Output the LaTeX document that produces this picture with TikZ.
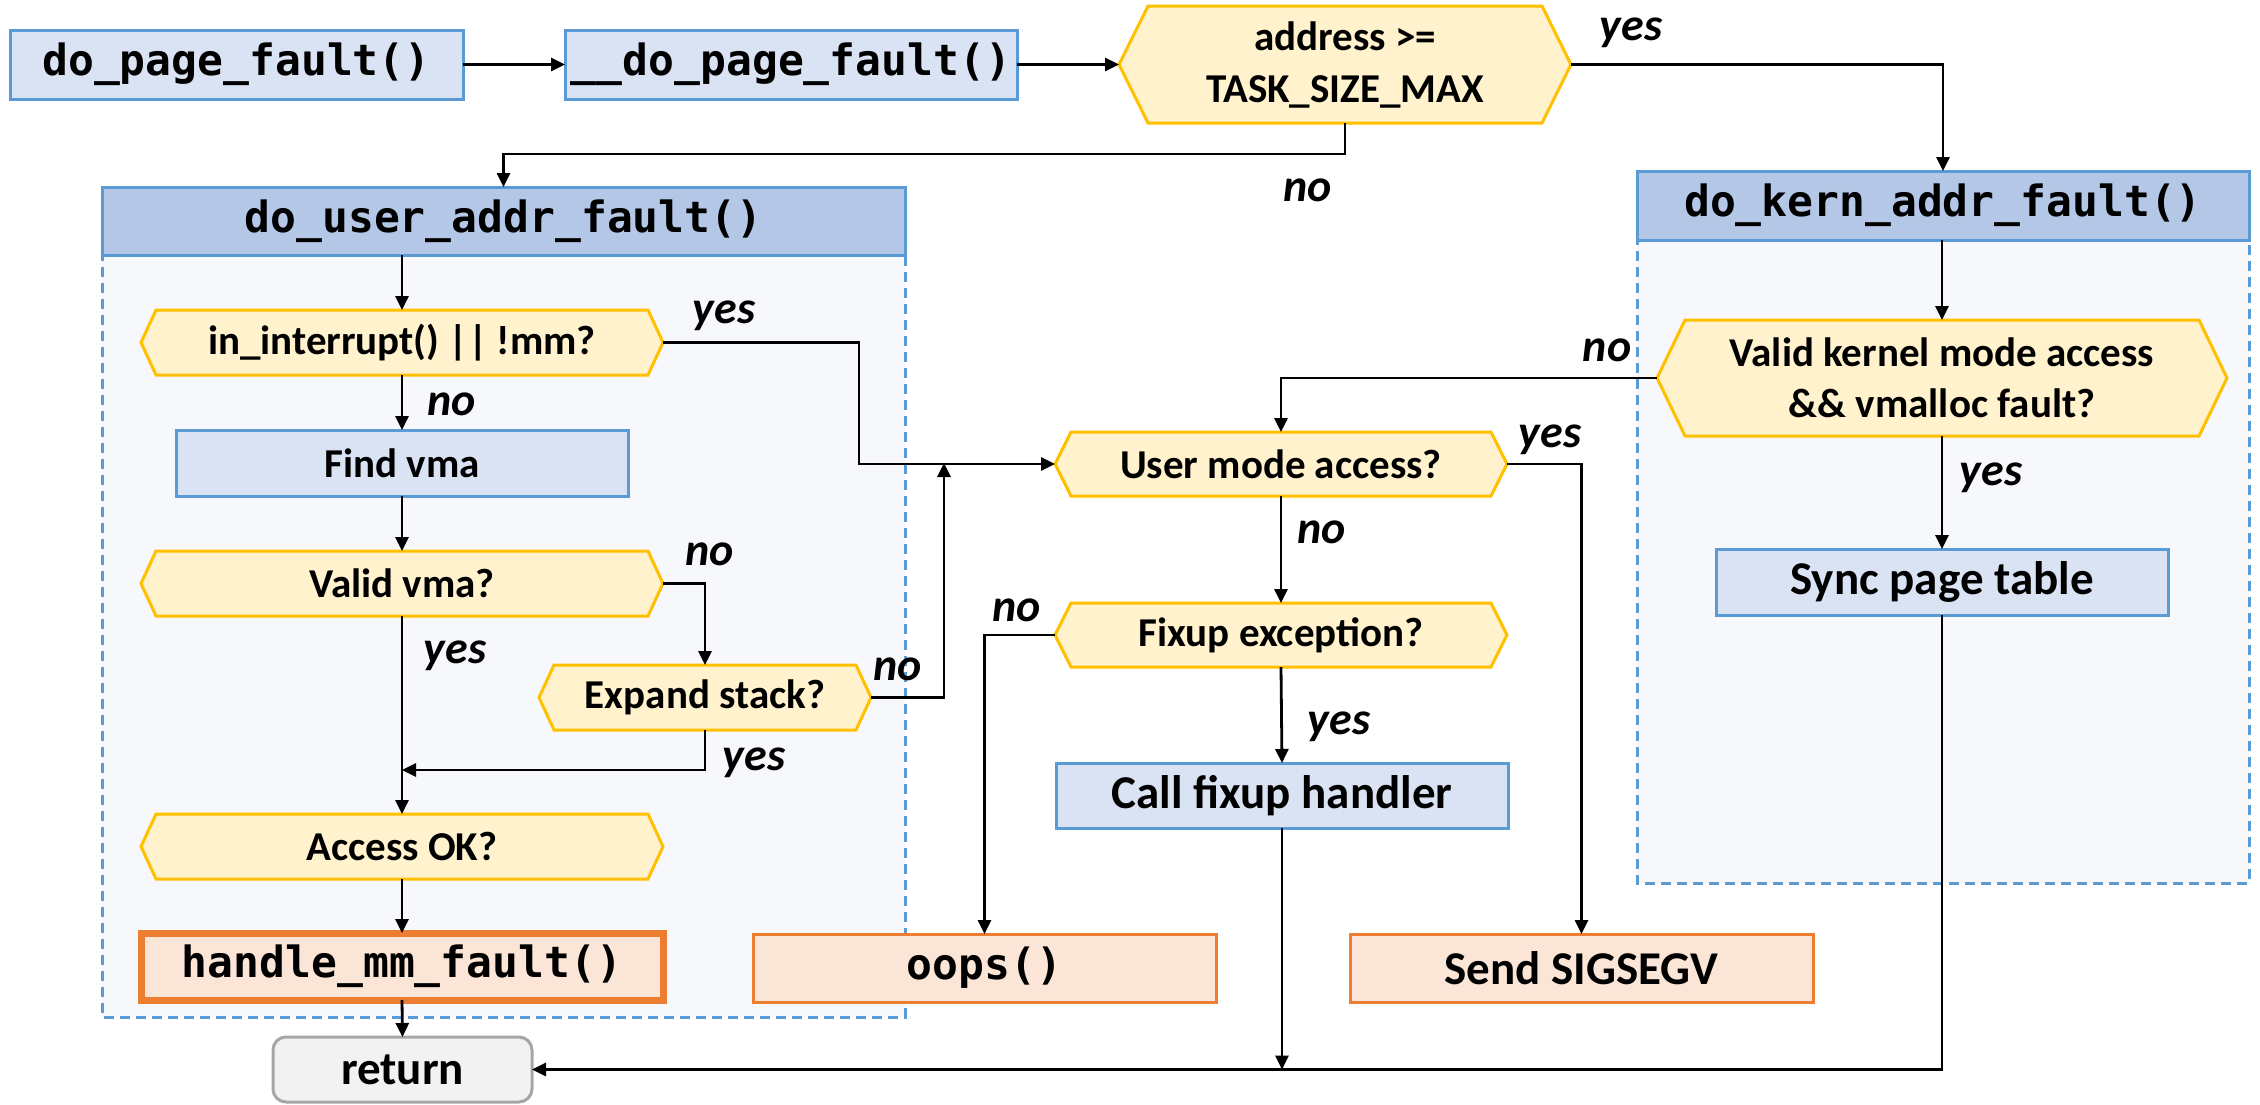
\documentclass[tikz,border=0pt]{standalone}
\usepackage{fontspec}
\setmainfont{Carlito}
\newfontfamily\monof{DejaVu Sans Mono}
\usetikzlibrary{arrows.meta}
\definecolor{bfill}{HTML}{DAE3F3}
\definecolor{bline}{HTML}{5B9BD5}
\definecolor{hfill}{HTML}{B4C7E7}
\definecolor{cfill}{HTML}{F6F8FC}
\definecolor{yfill}{HTML}{FFF2CC}
\definecolor{yline}{HTML}{FFC000}
\definecolor{ofill}{HTML}{FBE5D6}
\definecolor{oline}{HTML}{ED7D31}
\definecolor{gfill}{HTML}{F2F2F2}
\definecolor{gline}{HTML}{A6A6A6}
\newcommand\fontSm{\fontsize{41}{50}\selectfont\bfseries}
\newcommand\fontLg{\fontsize{47}{56}\selectfont\bfseries}
\newcommand\fontMo{\fontsize{43}{52}\selectfont\monof\bfseries}
\newcommand\fontYn{\fontsize{46}{55}\selectfont\bfseries\itshape}
\newcommand\hexnode[8]{% name, cx, cy, halfw, halfh, slant, linespacing, text
  \draw[hexsty] (#2-#4,#3) -- (#2-#4+#6,#3-#5) -- (#2+#4-#6,#3-#5) -- (#2+#4,#3)
     -- (#2+#4-#6,#3+#5) -- (#2-#4+#6,#3+#5) -- cycle;
  \node[draw=none, inner sep=0pt, outer sep=0pt, align=center,
        font={\fontsize{41}{#7}\selectfont\bfseries},
        minimum width=2*#4, minimum height=2*#5] (#1) at (#2,#3) {#8};
}
\begin{document}
\begin{tikzpicture}[x=1pt,y=-1pt,
  hexsty/.style={fill=yfill, draw=yline, line width=3pt, line join=miter},
  bbox/.style={draw=bline, fill=bfill, line width=3pt, inner sep=0pt, outer sep=0pt},
  hdr/.style={draw=bline, fill=hfill, line width=3pt, inner sep=0pt, outer sep=0pt, font=\fontMo},
  obox/.style={draw=oline, fill=ofill, line width=3pt, inner sep=0pt, outer sep=0pt},
  gbox/.style={draw=gline, fill=gfill, line width=3pt, rounded corners=13pt, inner sep=0pt, outer sep=0pt},
  cont/.style={draw=bline, fill=cfill, line width=3pt, dash pattern=on 10pt off 6pt},
  arr/.style={-{Triangle[length=14pt,width=13pt]}, line width=2.8pt},
  yn/.style={inner sep=0pt, font=\fontYn}]
\useasboundingbox (0,0) rectangle (2260,1104);
\fill[white] (0,0) rectangle (2260,1104);

% containers
\draw[cont] (102,187) rectangle (905,1017);
\draw[cont] (1637,171) rectangle (2249,883);
\node[hdr, minimum width=803, minimum height=68] (uhdr) at (503.5,221) {do\_user\_addr\_fault()};
\node[hdr, minimum width=612, minimum height=69] (khdr) at (1943,205.5) {do\_kern\_addr\_fault()};

% top row
\node[bbox, minimum width=453, minimum height=69, font=\fontMo] (dpf) at (236.5,64.5) {do\_page\_fault()};
\node[bbox, minimum width=452, minimum height=69, font=\fontMo] (ddpf) at (791,64.5) {\_\_do\_page\_fault()};
\hexnode{addr}{1345}{64.5}{226}{58.5}{29}{52}{address >=\\TASK\_SIZE\_MAX}

% user column
\hexnode{intr}{402}{342.5}{261}{32.5}{15}{50}{in\_interrupt() || !mm?}
\node[bbox, minimum width=452, minimum height=66, font=\fontSm] (fvma) at (402,463) {Find vma};
\hexnode{vvma}{402}{583.5}{261}{32.5}{15}{50}{Valid vma?}
\hexnode{expand}{705}{697.5}{166}{32.5}{15}{50}{Expand stack?}
\hexnode{aok}{402}{846.5}{261}{32.5}{15}{50}{Access OK?}
\node[draw=oline, fill=ofill, line width=7pt, inner sep=0pt, outer sep=0pt, minimum width=522, minimum height=67, font=\fontMo] (hmm) at (402,966.5) {handle\_mm\_fault()};
\node[gbox, minimum width=259, minimum height=65, font=\fontLg] (ret) at (402.5,1069.5) {return};

% middle column
\hexnode{uma}{1281}{464}{226}{32}{16}{50}{User mode access?}
\hexnode{fix}{1281}{635}{226}{32}{16}{50}{Fixup exception?}
\node[bbox, minimum width=452, minimum height=65, font=\fontLg] (cfh) at (1282,795.5) {Call fixup handler};
\node[obox, minimum width=463, minimum height=68, font=\fontMo] (oops) at (984.5,968) {oops()};
\node[obox, minimum width=463, minimum height=68, font=\fontLg] (sig) at (1581.5,968) {Send SIGSEGV};

% kernel column
\hexnode{vkern}{1942}{378}{285}{58}{28}{51}{Valid kernel mode access\\\&\& vmalloc fault?}
\node[bbox, minimum width=452, minimum height=66, font=\fontLg] (sync) at (1942,582) {Sync page table};

% helper coordinates
\coordinate (k1) at (700,154);
\coordinate (j1) at (944,463);
\coordinate (j2) at (402,770);
\coordinate (j3) at (859,400);

% connectors
\draw[arr] (dpf.east) -- (ddpf.west);
\draw[arr] (ddpf.east) -- (addr.west);
\draw[arr] (addr.east) -| (khdr.north);
\draw[arr] (addr.south) |- (k1) -| (uhdr.north);
\draw[arr] (intr.north |- uhdr.south) -- (intr.north);
\draw[arr] (intr.east) -| (j3) |- (uma.west);
\draw[arr] (intr.south) -- (fvma.north);
\draw[arr] (fvma.south) -- (vvma.north);
\draw[arr] (vvma.east) -| (expand.north);
\draw[arr] (vvma.south) -- (aok.north);
\draw[arr] (expand.east) -| (j1);
\draw[arr] (expand.south) |- (j2);
\draw[arr] (aok.south) -- (hmm.north);
\draw[arr] (hmm.south) -- (ret.north);
\draw[arr] (vkern.north |- khdr.south) -- (vkern.north);
\draw[arr] (vkern.west) -| (uma.north);
\draw[arr] (vkern.south) -- (sync.north);
\draw[arr] (uma.east) -| (sig.north);
\draw[arr] (uma.south) -- (fix.north);
\draw[arr] (fix.west) -| (oops.north);
\draw[arr] (fix.south) -- (cfh.north);
\draw[arr] (cfh.south) -- (cfh.south |- ret.east);
\draw[arr] (sync.south) |- (ret.east);

% labels
\node[yn] (l1) at (1631,33) {yes};
\node[yn] (l2) at (1308,190) {no};
\node[yn] (l3) at (724,316) {yes};
\node[yn] (l4) at (452,404) {no};
\node[yn] (l5) at (1607,350) {no};
\node[yn] (l6) at (1550,440) {yes};
\node[yn] (l7) at (1991,478) {yes};
\node[yn] (l8) at (1322,532) {no};
\node[yn] (l9) at (710,554) {no};
\node[yn] (l10) at (455,656) {yes};
\node[yn] (l11) at (898,669) {no};
\node[yn] (l12) at (754,763) {yes};
\node[yn] (l13) at (1017,610) {no};
\node[yn] (l14) at (1339,727) {yes};
\end{tikzpicture}
\end{document}
